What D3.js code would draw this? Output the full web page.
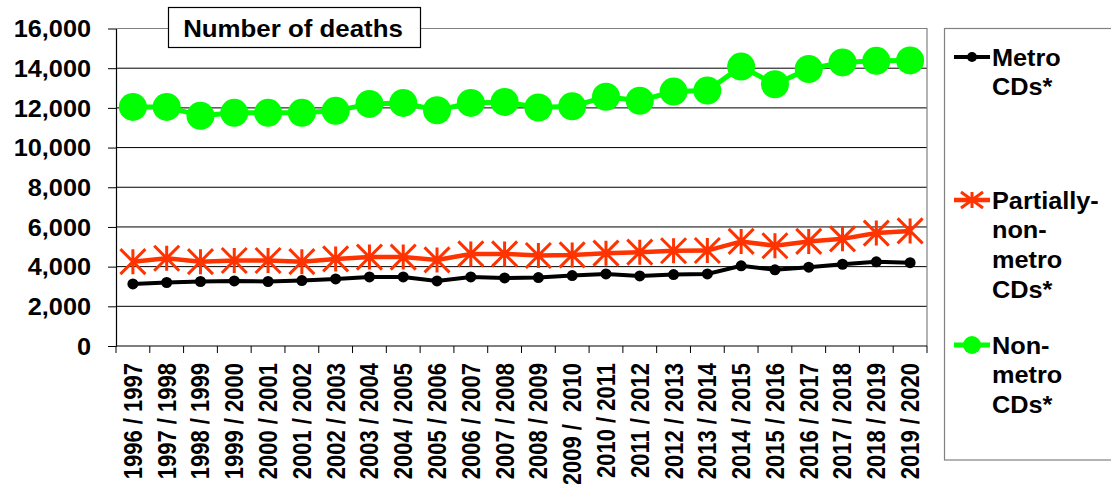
<!DOCTYPE html>
<html>
<head>
<meta charset="utf-8">
<script src="https://cdn.jsdelivr.net/npm/d3@7"></script>
<style>
  html, body { margin: 0; padding: 0; background: #fff; }
  svg { display: block; font-family: Arial, "Liberation Sans", sans-serif; font-weight: bold; }
</style>
</head>
<body>
<svg id="chart" width="1111" height="484"></svg>
<script>
// Financial years shown along the x axis
const categories = [
  "1996 / 1997", "1997 / 1998", "1998 / 1999", "1999 / 2000", "2000 / 2001",
  "2001 / 2002", "2002 / 2003", "2003 / 2004", "2004 / 2005", "2005 / 2006",
  "2006 / 2007", "2007 / 2008", "2008 / 2009", "2009 /  2010", "2010 / 2011",
  "2011 / 2012", "2012 / 2013", "2013 / 2014", "2014 / 2015", "2015 / 2016",
  "2016 / 2017", "2017 / 2018", "2018 / 2019", "2019 / 2020"
];

// Number of deaths per year
const metroCDs = [
  3130, 3200, 3250, 3280, 3250, 3300, 3380, 3480, 3480, 3280, 3480, 3430,
  3450, 3550, 3630, 3530, 3600, 3630, 4040, 3840, 3970, 4120, 4240, 4200
];
const partiallyNonMetroCDs = [
  4250, 4420, 4250, 4310, 4310, 4250, 4390, 4480, 4480, 4340, 4640, 4640,
  4560, 4590, 4680, 4730, 4800, 4810, 5270, 5050, 5270, 5400, 5690, 5800
];
const nonMetroCDs = [
  12050, 12050, 11600, 11750, 11750, 11750, 11850, 12200, 12250, 11880, 12250, 12300,
  12020, 12080, 12560, 12360, 12820, 12870, 14080, 13190, 13960, 14290, 14370, 14390
];

const yTickValues = [0, 2000, 4000, 6000, 8000, 10000, 12000, 14000, 16000];

const seriesNames = ["Metro CDs*", "Partially-non-metro CDs*", "Non-metro CDs*"];
const legendLines = [["Metro", "CDs*"], ["Partially-", "non-", "metro", "CDs*"], ["Non-", "metro", "CDs*"]];

const chartTitle = "Number of deaths";

const svg = d3.select("#chart");
const plot = { left: 116, right: 927, top: 28.5, bottom: 346 };
const TEXT_STRETCH = 1.1;

const x = d3.scaleBand().domain(categories).range([plot.left, plot.right]).padding(0);
const y = d3.scaleLinear().domain([0, 16000]).range([plot.bottom, plot.top]);

// Gridlines
svg.append("g")
  .selectAll("line")
  .data(yTickValues.filter(d => d > 0 && d < 16000))
  .join("line")
  .attr("x1", plot.left).attr("x2", plot.right)
  .attr("y1", d => y(d)).attr("y2", d => y(d))
  .attr("stroke", "#000").attr("stroke-width", 1);

// Plot frame: grey top and right edges
svg.append("path")
  .attr("d", `M${plot.left},${y(16000)} H${plot.right} V${plot.bottom}`)
  .attr("fill", "none").attr("stroke", "#808080").attr("stroke-width", 1.2);

// Y axis
const yAxis = svg.append("g")
  .attr("transform", `translate(${plot.left},0)`)
  .call(d3.axisLeft(y).tickValues(yTickValues).tickFormat(d3.format(",")).tickSize(8).tickSizeOuter(0));
yAxis.select(".domain").attr("stroke", "#000").attr("stroke-width", 1.2);
yAxis.selectAll(".tick line").attr("stroke", "#000");
yAxis.selectAll(".tick text")
  .attr("font-size", 23)
  .attr("font-weight", "bold")
  .attr("font-family", "Arial, 'Liberation Sans', sans-serif")
  .attr("fill", "#000")
  .attr("x", -25 / TEXT_STRETCH)
  .attr("dy", "0.36em")
  .attr("transform", `scale(${TEXT_STRETCH},1)`);

// X axis line
svg.append("line")
  .attr("x1", plot.left).attr("x2", plot.right)
  .attr("y1", plot.bottom).attr("y2", plot.bottom)
  .attr("stroke", "#000").attr("stroke-width", 1.2);

// Tick marks at every category boundary
const boundaries = categories.map(c => x(c)).concat([x(categories[categories.length - 1]) + x.bandwidth()]);
svg.append("g")
  .selectAll("line")
  .data(boundaries)
  .join("line")
  .attr("x1", d => d).attr("x2", d => d)
  .attr("y1", plot.bottom).attr("y2", plot.bottom + 7)
  .attr("stroke", "#000").attr("stroke-width", 1);

// Rotated category labels
svg.append("g")
  .selectAll("g")
  .data(categories)
  .join("g")
  .attr("transform", d => `translate(${x(d) + x.bandwidth() / 2},363) rotate(-90)`)
  .append("text")
  .attr("text-anchor", "end")
  .attr("font-size", 22)
  .attr("dy", "0.36em")
  .attr("transform", "scale(1,1.13)")
  .style("white-space", "pre")
  .text(d => d);

const cx = (d, i) => x(categories[i]) + x.bandwidth() / 2;

// Asterisk marker: vertical stroke plus two diagonals
function starPath(rx, ry) {
  return `M0,${-ry}V${ry}M${-rx},${-ry}L${rx},${ry}M${-rx},${ry}L${rx},${-ry}`;
}

// Non-metro series
svg.append("path")
  .datum(nonMetroCDs)
  .attr("fill", "none").attr("stroke", "#00ff00").attr("stroke-width", 5)
  .attr("d", d3.line().x(cx).y(d => y(d)));
svg.append("g").selectAll("circle")
  .data(nonMetroCDs).join("circle")
  .attr("cx", cx).attr("cy", d => y(d)).attr("r", 14)
  .attr("fill", "#00ff00");

// Partially-non-metro series
svg.append("path")
  .datum(partiallyNonMetroCDs)
  .attr("fill", "none").attr("stroke", "#ff3300").attr("stroke-width", 4.5)
  .attr("d", d3.line().x(cx).y(d => y(d)));
svg.append("g").selectAll("path")
  .data(partiallyNonMetroCDs).join("path")
  .attr("transform", (d, i) => `translate(${cx(d, i)},${y(d)})`)
  .attr("d", starPath(12.5, 12.5))
  .attr("fill", "none").attr("stroke", "#ff3300").attr("stroke-width", 3);

// Metro series
svg.append("path")
  .datum(metroCDs)
  .attr("fill", "none").attr("stroke", "#000").attr("stroke-width", 4)
  .attr("d", d3.line().x(cx).y(d => y(d)));
svg.append("g").selectAll("circle")
  .data(metroCDs).join("circle")
  .attr("cx", cx).attr("cy", d => y(d)).attr("r", 5.5)
  .attr("fill", "#000");

// Title box
svg.append("rect")
  .attr("x", 168.5).attr("y", 7.5).attr("width", 252).attr("height", 40)
  .attr("fill", "#fff").attr("stroke", "#000").attr("stroke-width", 1.2);
svg.append("text")
  .attr("x", 293 / TEXT_STRETCH).attr("y", 36.7)
  .attr("text-anchor", "middle")
  .attr("font-size", 23.5)
  .attr("transform", `scale(${TEXT_STRETCH},1)`)
  .text(chartTitle);

// Legend
svg.append("rect")
  .attr("x", 944.5).attr("y", 28.5).attr("width", 200).attr("height", 431.5)
  .attr("fill", "#fff").attr("stroke", "#808080").attr("stroke-width", 1.2);

const legendY = [57, 200, 345];
const legendColors = ["#000", "#ff3300", "#00ff00"];
const legendWidths = [4, 4.5, 5];
const legend = svg.append("g");
seriesNames.forEach((name, k) => {
  const g = legend.append("g").attr("transform", `translate(0,${legendY[k]})`);
  g.append("line")
    .attr("x1", 954).attr("x2", 990).attr("y1", 0).attr("y2", 0)
    .attr("stroke", legendColors[k]).attr("stroke-width", legendWidths[k]);
  if (k === 0) {
    g.append("circle").attr("cx", 972).attr("cy", 0).attr("r", 5).attr("fill", legendColors[k]);
  } else if (k === 1) {
    g.append("path").attr("transform", "translate(972,0)")
      .attr("d", starPath(11, 8)).attr("fill", "none")
      .attr("stroke", legendColors[k]).attr("stroke-width", 3);
  } else {
    g.append("circle").attr("cx", 972).attr("cy", 0).attr("r", 9).attr("fill", legendColors[k]);
  }
  g.append("g").attr("transform", `scale(${TEXT_STRETCH},1)`)
    .selectAll("text")
    .data(legendLines[k])
    .join("text")
    .attr("x", 992 / TEXT_STRETCH)
    .attr("y", (d, i) => 8.5 + i * 29.7)
    .attr("font-size", 23)
    .text(d => d);
});
</script>
</body>
</html>
